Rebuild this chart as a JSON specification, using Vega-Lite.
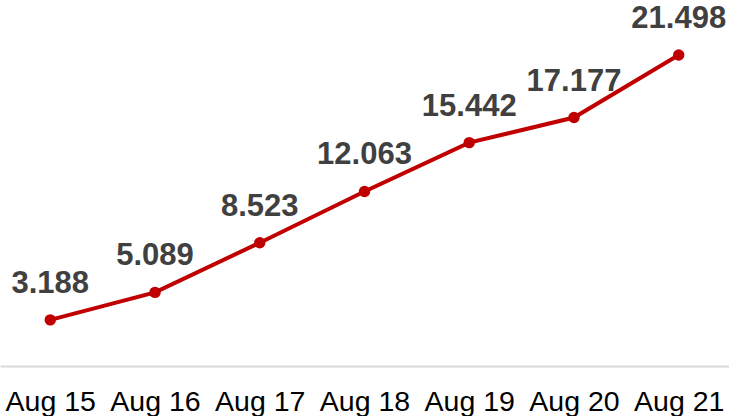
{
  "$schema": "https://vega.github.io/schema/vega-lite/v6.json",
  "width": 729,
  "height": 366,
  "autosize": {"type": "none"},
  "padding": {"left": 0, "right": 0, "top": 0, "bottom": 50},
  "config": {"view": {"stroke": null}, "font": "Liberation Sans"},
  "data": {"values": [
    {"date": "Aug 15", "value": 3.188},
    {"date": "Aug 16", "value": 5.089},
    {"date": "Aug 17", "value": 8.523},
    {"date": "Aug 18", "value": 12.063},
    {"date": "Aug 19", "value": 15.442},
    {"date": "Aug 20", "value": 17.177},
    {"date": "Aug 21", "value": 21.498}
  ]},
  "encoding": {
    "x": {
      "field": "date", "type": "ordinal", "sort": null,
      "scale": {"type": "point", "padding": 0.48},
      "axis": {
        "title": null, "ticks": false, "grid": false,
        "domainColor": "#d9d9d9", "domainWidth": 2,
        "labelFont": "Liberation Sans", "labelFontSize": 28.5, "labelColor": "#000000",
        "labelBaseline": "alphabetic", "labelPadding": 44, "labelAngle": 0
      }
    },
    "y": {
      "field": "value", "type": "quantitative",
      "scale": {"domain": [0, 25.3], "nice": false, "zero": true},
      "axis": null
    }
  },
  "layer": [
    {"mark": {"type": "line", "color": "#C00000", "strokeWidth": 4}},
    {"mark": {"type": "point", "filled": true, "color": "#C00000", "size": 130, "opacity": 1}},
    {"mark": {"type": "text", "dy": -27, "baseline": "alphabetic", "align": "center", "font": "Liberation Sans", "fontWeight": "bold", "fontSize": 31, "color": "#404040"},
     "encoding": {"text": {"field": "value", "type": "quantitative", "format": ".3f"}}}
  ]
}
